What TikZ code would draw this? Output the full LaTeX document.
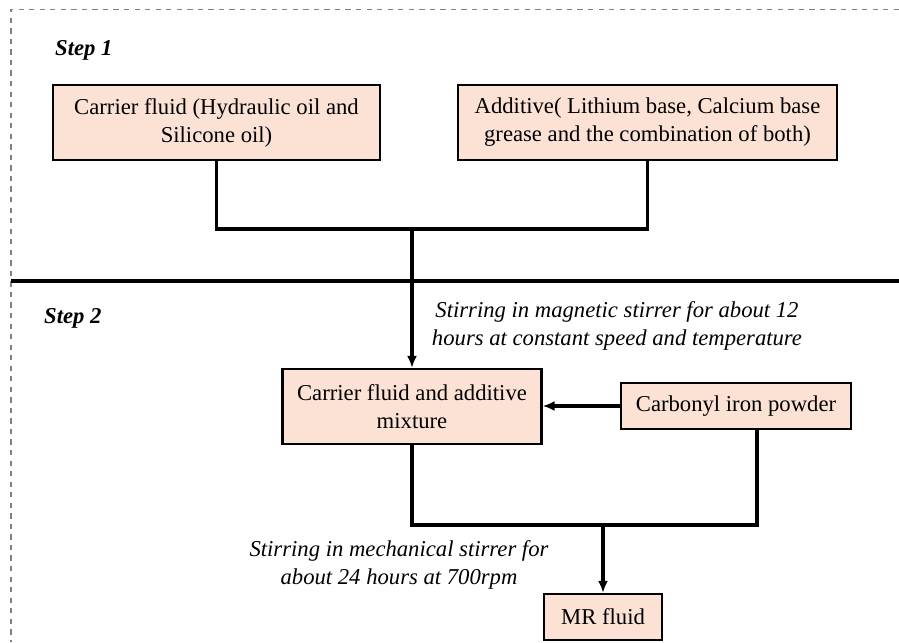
\documentclass[tikz,border=0pt]{standalone}
\usepackage{fontspec}
\setmainfont{Liberation Serif}
\usepackage{tikz}
\usetikzlibrary{arrows.meta,positioning,calc}
\definecolor{boxfill}{HTML}{FBE2D5}
\tikzset{
  box/.style={draw=black, fill=boxfill, line width=1.3pt, align=center, inner sep=3pt, minimum height=15mm, font=\fontsize{12.9}{15.9}\selectfont},
  smallbox/.style={draw=black, fill=boxfill, line width=1.3pt, align=center, inner sep=3pt, minimum height=9.2mm, font=\fontsize{12.9}{15.9}\selectfont},
  arrow/.style={-{Latex[length=2.4mm,width=2mm]}, line width=1.8pt},
  joinline/.style={line width=1.8pt},
  steplabel/.style={anchor=west, font=\fontsize{12.9}{15.9}\selectfont\bfseries\itshape},
  note/.style={align=center, font=\fontsize{12.9}{15.9}\selectfont\itshape}
}

\begin{document}
\begin{tikzpicture}
\useasboundingbox (0,0) rectangle (17.98,-12.84);
\draw[dashed, black!50, line width=0.8pt] (17.98,-0.19) -| (0.22,-12.84);

% Step 1
\node[steplabel] (step1) at (0.98,-1.0) {Step 1};
\node[box, minimum width=65.4mm] (carrier) at (4.33,-2.45) {Carrier fluid (Hydraulic oil and\\Silicone oil)};
\node[box, minimum width=75.8mm] (additive) at (12.95,-2.45) {Additive( Lithium base, Calcium base\\grease and the combination of both)};
\coordinate (join1) at (8.24,-4.58);
\draw[joinline] (carrier.south) |- (join1) -| (additive.south);

\draw[line width=1.8pt] (0.22,-5.62) -- (17.98,-5.62);

% Step 2
\node[steplabel] (step2) at (0.76,-6.36) {Step 2};
\node[box, minimum width=51.8mm] (mixture) at (8.24,-8.13) {Carrier fluid and additive\\mixture};
\node[smallbox, minimum width=46mm] (iron) at (14.72,-8.12) {Carbonyl iron powder};
\node[note] (magnetic) at (12.34,-6.52) {Stirring in magnetic stirrer for about 12\\hours at constant speed and temperature};
\draw[arrow] (join1) -- (mixture.north);
\draw[arrow] (iron.west) -- (mixture.east |- iron.west);

\node[smallbox, minimum width=23.6mm] (mrfluid) at (12.06,-12.34) {MR fluid};
\node[note] (mechanical) at (7.98,-11.3) {Stirring in mechanical stirrer for\\about 24 hours at 700rpm};
\coordinate (join2) at (12.06,-10.5);
\draw[joinline] (mixture.south) |- (join2) -| ([xshift=4.2mm]iron.south);
\draw[arrow] (join2) -- (mrfluid.north);
\end{tikzpicture}
\end{document}
